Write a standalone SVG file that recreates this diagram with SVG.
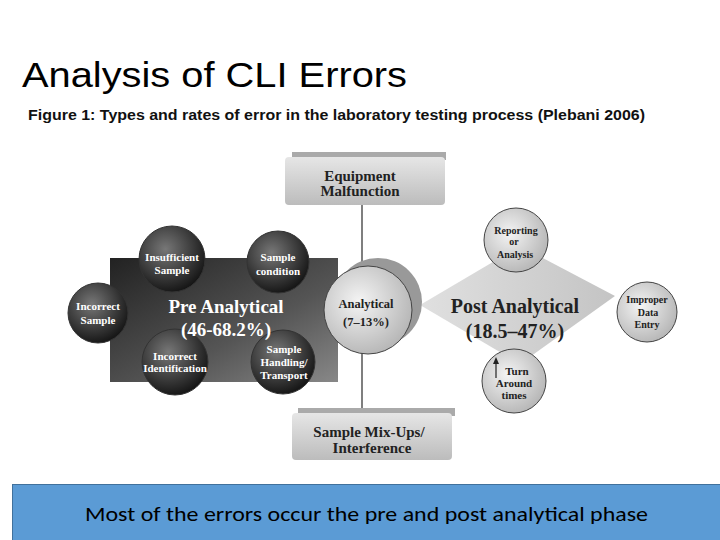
<svg xmlns="http://www.w3.org/2000/svg" width="720" height="540" viewBox="0 0 720 540">
<defs>
<radialGradient id="dk" cx="0.4" cy="0.35" r="0.7"><stop offset="0" stop-color="#777"/><stop offset="1" stop-color="#111"/></radialGradient>
<radialGradient id="lt" cx="0.4" cy="0.4" r="0.7"><stop offset="0" stop-color="#f4f4f4"/><stop offset="1" stop-color="#b0b0b0"/></radialGradient>
<linearGradient id="box" x1="0" y1="0" x2="0" y2="1"><stop offset="0" stop-color="#e6e6e6"/><stop offset="1" stop-color="#bcbcbc"/></linearGradient>
<linearGradient id="pre" x1="0" y1="0" x2="1" y2="1"><stop offset="0" stop-color="#222"/><stop offset="0.6" stop-color="#555"/><stop offset="1" stop-color="#888"/></linearGradient>
<linearGradient id="dia" x1="0" y1="0" x2="1" y2="0"><stop offset="0" stop-color="#e0e0e0"/><stop offset="1" stop-color="#c4c4c4"/></linearGradient>
</defs>
<style>
.t{font-family:"Liberation Serif",serif;font-weight:bold;text-anchor:middle}
.w{fill:#fff}.b{fill:#222}
.dc{fill:url(#dk);stroke:#333;stroke-width:1}
.lc{fill:url(#lt);stroke:#444;stroke-width:1}
</style>
<rect width="720" height="540" fill="#fff"/>
<text x="22" y="87" font-family="Liberation Sans,Arial,sans-serif" font-size="35" fill="#000" textLength="385" lengthAdjust="spacingAndGlyphs">Analysis of CLI Errors</text>
<text x="28" y="120" font-family="Liberation Sans,Arial,sans-serif" font-size="14" font-weight="bold" fill="#111" textLength="617" lengthAdjust="spacingAndGlyphs">Figure 1: Types and rates of error in the laboratory testing process (Plebani 2006)</text>
<g id="connectors" stroke="#555" stroke-width="1.5">
<line x1="362" y1="205" x2="362" y2="268"/>
<line x1="362" y1="352" x2="362" y2="410"/>
</g>
<g id="equipment">
<rect x="292" y="152" width="154" height="8" fill="#aaa"/>
<rect x="285" y="157" width="160" height="48" rx="4" fill="url(#box)"/>
<text class="t b" x="360" y="181" font-size="15">Equipment</text>
<text class="t b" x="360" y="196" font-size="15">Malfunction</text>
</g>
<g id="mixups">
<rect x="298" y="408" width="157" height="8" fill="#aaa"/>
<rect x="292" y="413" width="160" height="47" rx="4" fill="url(#box)"/>
<text class="t b" x="369" y="437" font-size="15">Sample Mix-Ups/</text>
<text class="t b" x="372" y="453" font-size="15">Interference</text>
</g>
<g id="pre">
<rect x="110" y="258" width="228" height="124" fill="url(#pre)"/>
</g>
<g id="post">
<polygon points="420,305 520,246 615,296 520,364" fill="url(#dia)"/>
<text class="t b" x="515" y="313" font-size="20">Post Analytical</text>
<text class="t b" x="515" y="338" font-size="20">(18.5–47%)</text>
</g>
<g id="analytical">
<circle cx="378" cy="302" r="44" fill="#999"/>
<circle cx="368" cy="310" r="44" class="lc" stroke="none"/>
<text class="t b" x="366" y="308" font-size="12.5">Analytical</text>
<text class="t b" x="366" y="326" font-size="12.5">(7–13%)</text>
</g>
<g id="insufficient"><circle cx="172" cy="259" r="33" class="dc"/>
<text class="t w" x="172" y="261" font-size="11">Insufficient</text><text class="t w" x="172" y="274" font-size="11">Sample</text></g>
<g id="condition"><circle cx="278" cy="262" r="31" class="dc"/>
<text class="t w" x="278" y="261" font-size="11">Sample</text><text class="t w" x="278" y="275" font-size="11">condition</text></g>
<g id="incorrect-sample"><circle cx="98" cy="313" r="30" class="dc"/>
<text class="t w" x="98" y="310" font-size="11">Incorrect</text><text class="t w" x="98" y="324" font-size="11">Sample</text></g>
<g id="identification"><circle cx="175" cy="362" r="33" class="dc"/>
<text class="t w" x="175" y="360" font-size="11">Incorrect</text><text class="t w" x="175" y="372" font-size="11">Identification</text></g>
<g id="handling"><circle cx="283" cy="362" r="32" class="dc"/>
<text class="t w" x="284" y="353" font-size="11">Sample</text><text class="t w" x="284" y="366" font-size="11">Handling/</text><text class="t w" x="284" y="379" font-size="11">Transport</text></g>
<g id="pre-label">
<text class="t w" x="226" y="313" font-size="19">Pre Analytical</text>
<text class="t w" x="226" y="336" font-size="19">(46-68.2%)</text>
</g>
<g id="reporting"><circle cx="516" cy="240" r="32" class="lc"/>
<text class="t b" x="516" y="234" font-size="10">Reporting</text><text class="t b" x="514" y="245" font-size="10">or</text><text class="t b" x="515" y="258" font-size="10">Analysis</text></g>
<g id="improper"><circle cx="647" cy="312" r="30" class="lc"/>
<text class="t b" x="647" y="303" font-size="10">Improper</text><text class="t b" x="648" y="316" font-size="10">Data</text><text class="t b" x="647" y="328" font-size="10">Entry</text></g>
<g id="turnaround"><circle cx="514" cy="381" r="32" class="lc"/>
<line x1="496" y1="378" x2="496" y2="362" stroke="#222" stroke-width="1.2"/><polygon points="493,364 496,357 499,364" fill="#222"/>
<text class="t b" x="517" y="375" font-size="11">Turn</text><text class="t b" x="514" y="387" font-size="11">Around</text><text class="t b" x="514" y="399" font-size="11">times</text></g>
<g id="banner">
<rect x="12.5" y="484.5" width="712" height="60" fill="#5b9bd5" stroke="#41719c" stroke-width="1"/>
<text x="85" y="521" font-family="Carlito,Liberation Sans,sans-serif" font-size="20" fill="#000" textLength="563" lengthAdjust="spacingAndGlyphs">Most of the errors occur the pre and post analytical phase</text>
</g>
</svg>
